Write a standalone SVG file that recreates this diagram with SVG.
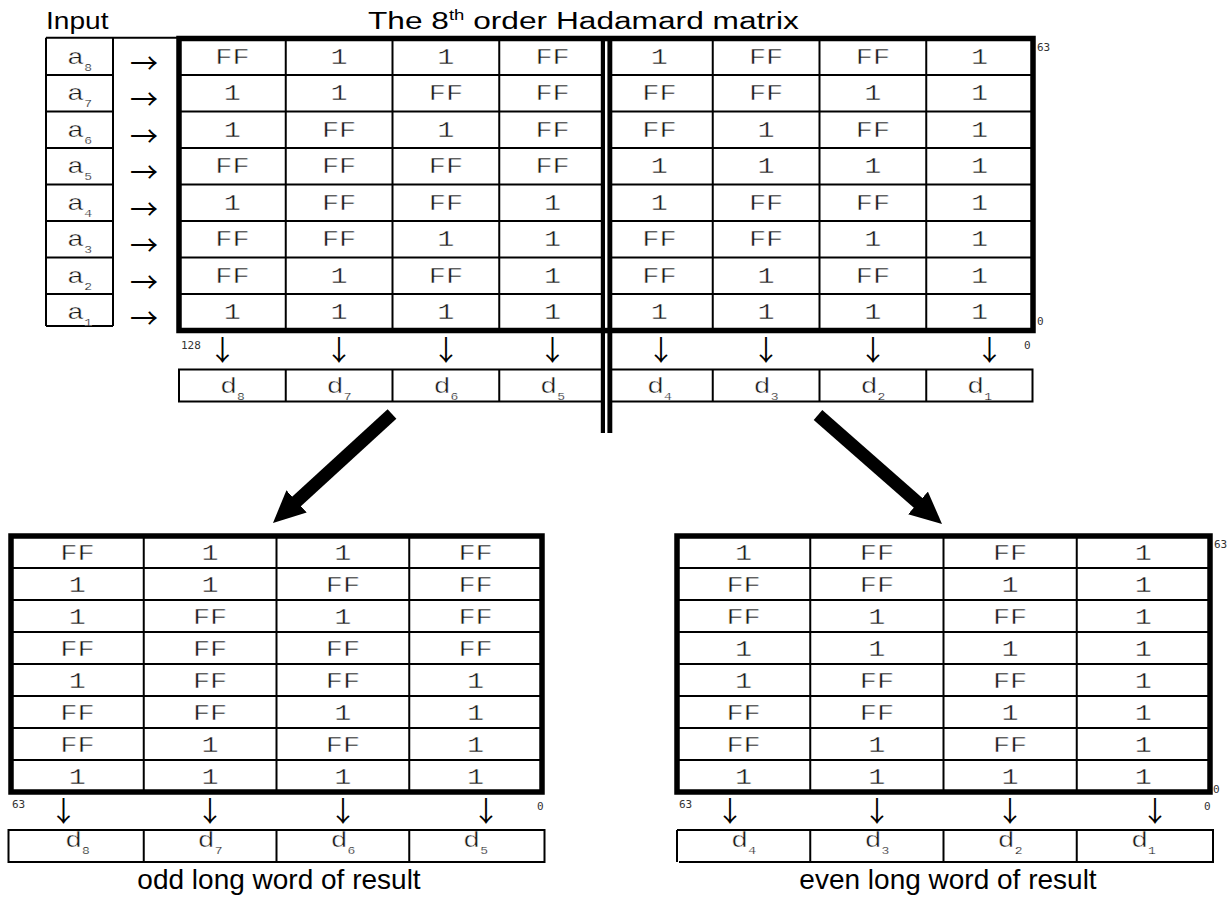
<svg xmlns="http://www.w3.org/2000/svg" width="1231" height="898" viewBox="0 0 1231 898">
<style>
.thin{stroke:#000;stroke-width:2;fill:none}
.thick{stroke:#000;stroke-width:5.5;fill:none}
.m{font-family:"Liberation Mono","Courier New",monospace;font-size:22px;text-anchor:middle;fill:#1a1a1a;stroke:#fff;stroke-width:0.4px}
.sub{font-size:10px;stroke-width:0.2px}
.s{font-family:"Liberation Sans",Arial,sans-serif;fill:#000}
.sm{font-family:"DejaVu Sans Mono","Liberation Mono",monospace;font-size:11px;fill:#333}
.ar{font-family:"Noto Sans CJK JP","Noto Sans CJK SC","DejaVu Sans",sans-serif;font-size:28px;text-anchor:middle;fill:#000}
.big{stroke:#000;stroke-width:13;fill:none}
</style>
<defs>
<marker id="head" markerUnits="userSpaceOnUse" markerWidth="34" markerHeight="32" refX="2" refY="15" orient="auto"><path d="M0,0 L32,15 L0,30 z" fill="#000"/></marker>
</defs>
<rect width="1231" height="898" fill="#fff"/>

<!-- titles -->
<text id="t-input" class="s" x="46" y="29" font-size="24" transform="matrix(1.17 0 0 1 -7.82 0)">Input</text>
<text id="t-title" class="s" x="368" y="29" font-size="24" transform="matrix(1.32 0 0 1 -117.76 0)">The 8<tspan font-size="14" dy="-9">th</tspan><tspan dy="9"> order Hadamard matrix</tspan></text>

<!-- input column -->
<g id="input">
<path class="thin" d="M46,37.7 H179 M46,37.7 V326 M113,37.7 V326 M46,326 H113 M46,75 H113 M46,111.5 H113 M46,148 H113 M46,184.5 H113 M46,221 H113 M46,257.5 H113 M46,294 H113"/>
<g class="m" transform="matrix(1.3 0 0 1 -23.85 0)">
<text x="79.5" y="64">a<tspan class="sub" dy="7">8</tspan></text>
<text x="79.5" y="100.5">a<tspan class="sub" dy="7">7</tspan></text>
<text x="79.5" y="137">a<tspan class="sub" dy="7">6</tspan></text>
<text x="79.5" y="173.5">a<tspan class="sub" dy="7">5</tspan></text>
<text x="79.5" y="210">a<tspan class="sub" dy="7">4</tspan></text>
<text x="79.5" y="246.5">a<tspan class="sub" dy="7">3</tspan></text>
<text x="79.5" y="283">a<tspan class="sub" dy="7">2</tspan></text>
<text x="79.5" y="319.5">a<tspan class="sub" dy="7">1</tspan></text>
</g>
<g class="ar">
<text x="144" y="73.5">→</text><text x="144" y="110">→</text><text x="144" y="146.5">→</text><text x="144" y="183">→</text>
<text x="144" y="219.5">→</text><text x="144" y="256">→</text><text x="144" y="292.5">→</text><text x="144" y="329">→</text>
</g>
</g>

<!-- top matrix -->
<g id="matrix">
<rect class="thick" x="179" y="38.5" width="854" height="292"/>
<path class="thin" d="M179,75 H1033 M179,111.5 H1033 M179,148 H1033 M179,184.5 H1033 M179,221 H1033 M179,257.5 H1033 M179,294 H1033 M285.75,38.5 V330.5 M392.5,38.5 V330.5 M499.25,38.5 V330.5 M712.75,38.5 V330.5 M819.5,38.5 V330.5 M926.25,38.5 V330.5"/>
<g class="m" transform="matrix(1.3 0 0 1 -69.72 0)">
<text x="232.4" y="64">FF</text><text x="232.4" y="100.5">1</text><text x="232.4" y="137">1</text><text x="232.4" y="173.5">FF</text><text x="232.4" y="210">1</text><text x="232.4" y="246.5">FF</text><text x="232.4" y="283">FF</text><text x="232.4" y="319.5">1</text>
</g>
<g class="m" transform="matrix(1.3 0 0 1 -101.73 0)">
<text x="339.1" y="64">1</text><text x="339.1" y="100.5">1</text><text x="339.1" y="137">FF</text><text x="339.1" y="173.5">FF</text><text x="339.1" y="210">FF</text><text x="339.1" y="246.5">FF</text><text x="339.1" y="283">1</text><text x="339.1" y="319.5">1</text>
</g>
<g class="m" transform="matrix(1.3 0 0 1 -133.77 0)">
<text x="445.9" y="64">1</text><text x="445.9" y="100.5">FF</text><text x="445.9" y="137">1</text><text x="445.9" y="173.5">FF</text><text x="445.9" y="210">FF</text><text x="445.9" y="246.5">1</text><text x="445.9" y="283">FF</text><text x="445.9" y="319.5">1</text>
</g>
<g class="m" transform="matrix(1.3 0 0 1 -165.78 0)">
<text x="552.6" y="64">FF</text><text x="552.6" y="100.5">FF</text><text x="552.6" y="137">FF</text><text x="552.6" y="173.5">FF</text><text x="552.6" y="210">1</text><text x="552.6" y="246.5">1</text><text x="552.6" y="283">1</text><text x="552.6" y="319.5">1</text>
</g>
<g class="m" transform="matrix(1.3 0 0 1 -197.82 0)">
<text x="659.4" y="64">1</text><text x="659.4" y="100.5">FF</text><text x="659.4" y="137">FF</text><text x="659.4" y="173.5">1</text><text x="659.4" y="210">1</text><text x="659.4" y="246.5">FF</text><text x="659.4" y="283">FF</text><text x="659.4" y="319.5">1</text>
</g>
<g class="m" transform="matrix(1.3 0 0 1 -229.83 0)">
<text x="766.1" y="64">FF</text><text x="766.1" y="100.5">FF</text><text x="766.1" y="137">1</text><text x="766.1" y="173.5">1</text><text x="766.1" y="210">FF</text><text x="766.1" y="246.5">FF</text><text x="766.1" y="283">1</text><text x="766.1" y="319.5">1</text>
</g>
<g class="m" transform="matrix(1.3 0 0 1 -261.87 0)">
<text x="872.9" y="64">FF</text><text x="872.9" y="100.5">1</text><text x="872.9" y="137">FF</text><text x="872.9" y="173.5">1</text><text x="872.9" y="210">FF</text><text x="872.9" y="246.5">1</text><text x="872.9" y="283">FF</text><text x="872.9" y="319.5">1</text>
</g>
<g class="m" transform="matrix(1.3 0 0 1 -293.88 0)">
<text x="979.6" y="64">1</text><text x="979.6" y="100.5">1</text><text x="979.6" y="137">1</text><text x="979.6" y="173.5">1</text><text x="979.6" y="210">1</text><text x="979.6" y="246.5">1</text><text x="979.6" y="283">1</text><text x="979.6" y="319.5">1</text>
</g>
<text class="sm" x="1037" y="51">63</text>
<text class="sm" x="1037" y="325">0</text>
</g>

<!-- top outputs -->
<g id="top-out">
<text class="sm" x="181" y="349">128</text>
<text class="sm" x="1024" y="349">0</text>
<g class="ar">
<text x="222.5" y="361">↓</text><text x="339.1" y="361">↓</text><text x="445.9" y="361">↓</text><text x="552.6" y="361">↓</text>
<text x="661" y="361">↓</text><text x="766.1" y="361">↓</text><text x="872.9" y="361">↓</text><text x="989.5" y="361">↓</text>
</g>
<rect class="thin" x="179" y="369.5" width="853.5" height="32"/>
<path class="thin" d="M285.75,369.5 V401.5 M392.5,369.5 V401.5 M499.25,369.5 V401.5 M712.75,369.5 V401.5 M819.5,369.5 V401.5 M926.25,369.5 V401.5"/>
<g class="m" transform="matrix(1.3 0 0 1 -69.72 0)"><text x="232.4" y="393">d<tspan class="sub" dy="7">8</tspan></text></g>
<g class="m" transform="matrix(1.3 0 0 1 -101.73 0)"><text x="339.1" y="393">d<tspan class="sub" dy="7">7</tspan></text></g>
<g class="m" transform="matrix(1.3 0 0 1 -133.77 0)"><text x="445.9" y="393">d<tspan class="sub" dy="7">6</tspan></text></g>
<g class="m" transform="matrix(1.3 0 0 1 -165.78 0)"><text x="552.6" y="393">d<tspan class="sub" dy="7">5</tspan></text></g>
<g class="m" transform="matrix(1.3 0 0 1 -197.82 0)"><text x="659.4" y="393">d<tspan class="sub" dy="7">4</tspan></text></g>
<g class="m" transform="matrix(1.3 0 0 1 -229.83 0)"><text x="766.1" y="393">d<tspan class="sub" dy="7">3</tspan></text></g>
<g class="m" transform="matrix(1.3 0 0 1 -261.87 0)"><text x="872.9" y="393">d<tspan class="sub" dy="7">2</tspan></text></g>
<g class="m" transform="matrix(1.3 0 0 1 -293.88 0)"><text x="979.6" y="393">d<tspan class="sub" dy="7">1</tspan></text></g>
</g>

<!-- double divider -->
<g id="divider">
<rect x="600.8" y="36" width="11.5" height="397" fill="#000"/>
<rect x="605" y="41.3" width="2.4" height="286.5" fill="#fff"/>
<rect x="605" y="333.3" width="2.4" height="100" fill="#fff"/>
</g>

<!-- big arrows -->
<g id="connectors">
<line class="big" x1="392" y1="414" x2="295.1" y2="502.7" marker-end="url(#head)"/>
<line class="big" x1="818" y1="415" x2="919.5" y2="504.2" marker-end="url(#head)"/>
</g>

<!-- bottom-left table -->
<g id="odd">
<rect class="thick" x="11" y="536" width="531" height="256"/>
<path class="thin" d="M11,568 H542 M11,600 H542 M11,632 H542 M11,664 H542 M11,696 H542 M11,728 H542 M11,760 H542 M143.75,536 V792 M276.5,536 V792 M409.25,536 V792"/>
<g class="m" transform="matrix(1.3 0 0 1 -23.22 0)">
<text x="77.4" y="560.5">FF</text><text x="77.4" y="592.5">1</text><text x="77.4" y="624.5">1</text><text x="77.4" y="656.5">FF</text><text x="77.4" y="688.5">1</text><text x="77.4" y="720.5">FF</text><text x="77.4" y="752.5">FF</text><text x="77.4" y="784.5">1</text>
<text x="77.4" y="847">d<tspan class="sub" dy="7">8</tspan></text>
</g>
<g class="m" transform="matrix(1.3 0 0 1 -63.03 0)">
<text x="210.1" y="560.5">1</text><text x="210.1" y="592.5">1</text><text x="210.1" y="624.5">FF</text><text x="210.1" y="656.5">FF</text><text x="210.1" y="688.5">FF</text><text x="210.1" y="720.5">FF</text><text x="210.1" y="752.5">1</text><text x="210.1" y="784.5">1</text>
<text x="210.1" y="847">d<tspan class="sub" dy="7">7</tspan></text>
</g>
<g class="m" transform="matrix(1.3 0 0 1 -102.87 0)">
<text x="342.9" y="560.5">1</text><text x="342.9" y="592.5">FF</text><text x="342.9" y="624.5">1</text><text x="342.9" y="656.5">FF</text><text x="342.9" y="688.5">FF</text><text x="342.9" y="720.5">1</text><text x="342.9" y="752.5">FF</text><text x="342.9" y="784.5">1</text>
<text x="342.9" y="847">d<tspan class="sub" dy="7">6</tspan></text>
</g>
<g class="m" transform="matrix(1.3 0 0 1 -142.68 0)">
<text x="475.6" y="560.5">FF</text><text x="475.6" y="592.5">FF</text><text x="475.6" y="624.5">FF</text><text x="475.6" y="656.5">FF</text><text x="475.6" y="688.5">1</text><text x="475.6" y="720.5">1</text><text x="475.6" y="752.5">1</text><text x="475.6" y="784.5">1</text>
<text x="475.6" y="847">d<tspan class="sub" dy="7">5</tspan></text>
</g>
<text class="sm" x="12" y="808">63</text>
<text class="sm" x="537" y="810">0</text>
<g class="ar"><text x="63.5" y="822">↓</text><text x="210.1" y="822">↓</text><text x="342.9" y="822">↓</text><text x="486" y="822">↓</text></g>
<rect class="thin" x="8.5" y="830" width="536" height="32"/>
<path class="thin" d="M143.75,830 V862 M276.5,830 V862 M409.25,830 V862"/>
<text class="s" x="279" y="889" font-size="28" text-anchor="middle">odd long word of result</text>
</g>

<!-- bottom-right table -->
<g id="even">
<rect class="thick" x="677" y="536" width="533" height="256"/>
<path class="thin" d="M677,568 H1210 M677,600 H1210 M677,632 H1210 M677,664 H1210 M677,696 H1210 M677,728 H1210 M677,760 H1210 M810.25,536 V792 M943.5,536 V792 M1076.75,536 V792"/>
<g class="m" transform="matrix(1.3 0 0 1 -223.08 0)">
<text x="743.6" y="560.5">1</text><text x="743.6" y="592.5">FF</text><text x="743.6" y="624.5">FF</text><text x="743.6" y="656.5">1</text><text x="743.6" y="688.5">1</text><text x="743.6" y="720.5">FF</text><text x="743.6" y="752.5">FF</text><text x="743.6" y="784.5">1</text>
<text x="743.6" y="847">d<tspan class="sub" dy="7">4</tspan></text>
</g>
<g class="m" transform="matrix(1.3 0 0 1 -263.07 0)">
<text x="876.9" y="560.5">FF</text><text x="876.9" y="592.5">FF</text><text x="876.9" y="624.5">1</text><text x="876.9" y="656.5">1</text><text x="876.9" y="688.5">FF</text><text x="876.9" y="720.5">FF</text><text x="876.9" y="752.5">1</text><text x="876.9" y="784.5">1</text>
<text x="876.9" y="847">d<tspan class="sub" dy="7">3</tspan></text>
</g>
<g class="m" transform="matrix(1.3 0 0 1 -303.03 0)">
<text x="1010.1" y="560.5">FF</text><text x="1010.1" y="592.5">1</text><text x="1010.1" y="624.5">FF</text><text x="1010.1" y="656.5">1</text><text x="1010.1" y="688.5">FF</text><text x="1010.1" y="720.5">1</text><text x="1010.1" y="752.5">FF</text><text x="1010.1" y="784.5">1</text>
<text x="1010.1" y="847">d<tspan class="sub" dy="7">2</tspan></text>
</g>
<g class="m" transform="matrix(1.3 0 0 1 -343.02 0)">
<text x="1143.4" y="560.5">1</text><text x="1143.4" y="592.5">1</text><text x="1143.4" y="624.5">1</text><text x="1143.4" y="656.5">1</text><text x="1143.4" y="688.5">1</text><text x="1143.4" y="720.5">1</text><text x="1143.4" y="752.5">1</text><text x="1143.4" y="784.5">1</text>
<text x="1143.4" y="847">d<tspan class="sub" dy="7">1</tspan></text>
</g>
<text class="sm" x="1214" y="548">63</text>
<text class="sm" x="1213" y="793">0</text>
<text class="sm" x="679" y="808">63</text>
<text class="sm" x="1204" y="810">0</text>
<g class="ar"><text x="730" y="822">↓</text><text x="876.9" y="822">↓</text><text x="1010.1" y="822">↓</text><text x="1155" y="822">↓</text></g>
<path class="thin" d="M677,830 H1213 V862 H679 M677,830 V862 M810.25,830 V862 M943.5,830 V862 M1076.75,830 V862"/>
<text class="s" x="948" y="889" font-size="28" text-anchor="middle">even long word of result</text>
</g>
</svg>
